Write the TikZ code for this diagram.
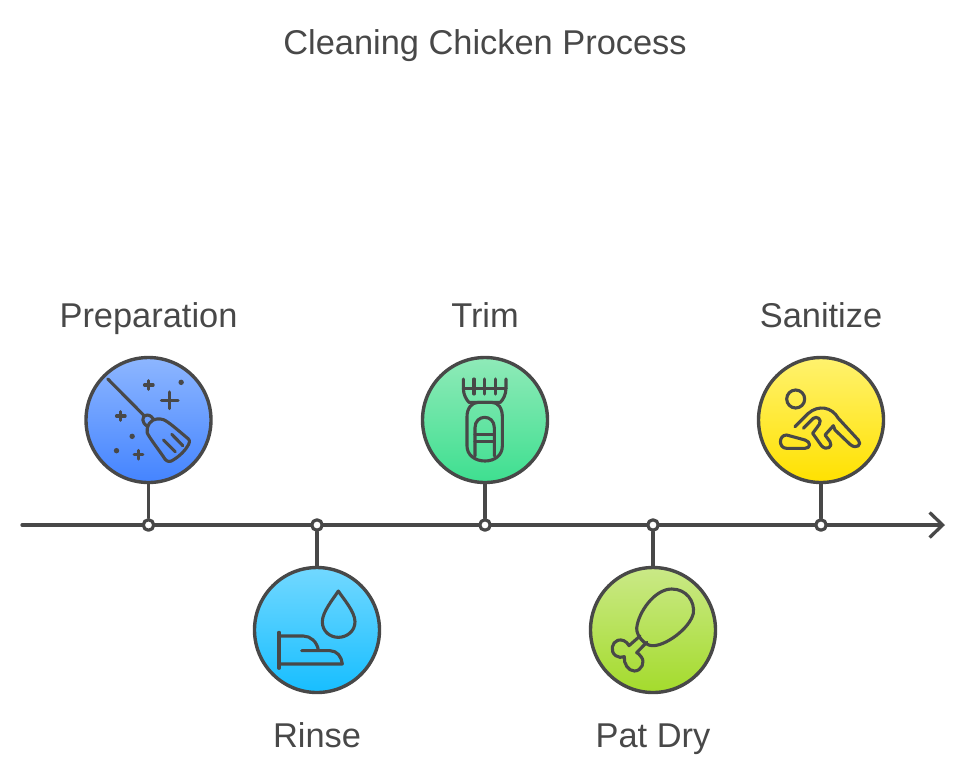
\documentclass[tikz,border=0pt]{standalone}
\usepackage{fontspec}
\setmainfont{Liberation Sans}
\usetikzlibrary{positioning,calc,arrows.meta}

\definecolor{inkgray}{HTML}{484848}
\definecolor{prepTop}{HTML}{8DB6FF}
\definecolor{prepBot}{HTML}{4484FF}
\definecolor{rinseTop}{HTML}{72D8FF}
\definecolor{rinseBot}{HTML}{17BEFF}
\definecolor{trimTop}{HTML}{8FEAB8}
\definecolor{trimBot}{HTML}{3EDF90}
\definecolor{patTop}{HTML}{CAE987}
\definecolor{patBot}{HTML}{A4DB2C}
\definecolor{saniTop}{HTML}{FFF26E}
\definecolor{saniBot}{HTML}{FFE100}

\tikzset{
	stepcircle/.style={circle,draw=inkgray,line width=3.4pt,minimum size=125pt,inner sep=0pt},
	axisdot/.style={circle,draw=inkgray,fill=white,line width=3.2pt,minimum size=10.5pt,inner sep=0pt},
	stemline/.style={draw=inkgray,line width=3.3pt},
	iconline/.style={draw=inkgray,line width=3.1pt,line cap=round,line join=round},
	steplabel/.style={text=inkgray,anchor=base,font=\fontsize{34.4}{38}\selectfont},
	iconscope/.style={shift={(#1.center)},x=0.3333pt,y=-0.3333pt}
}

\begin{document}
\begin{tikzpicture}[x=1pt,y=-1pt,line cap=round,line join=round]
	\useasboundingbox (0,0) rectangle (968,777);

	% axis
	\coordinate (axisStart) at (22,525);
	\coordinate (axisEnd) at (945,525);
	\draw[stemline,-{Straight Barb[length=13pt,width=25pt,line width=3.3pt]}] (axisStart) -- (axisEnd);

	% title
	\node[steplabel] (title) at (485,54) {Cleaning Chicken Process};

	% steps on the axis
	\foreach \name/\xx/\yy/\lab/\ly in {prep/148.5/420/Preparation/327, rinse/317/630/Rinse/747, trim/485/420/Trim/327, pat/653/630/Pat Dry/747, sani/821/420/Sanitize/327}{
		\node[stepcircle,top color=\name Top,bottom color=\name Bot] (\name) at (\xx,\yy) {};
		\node[axisdot] (\name Dot) at (\xx,525) {};
		\draw[stemline] (\name) -- (\name Dot);
		\node[steplabel] (\name Label) at (\xx,\ly) {\lab};
	}

	% broom
	\begin{scope}[iconscope=prep]
		\draw[iconline] (-122,-123) -- (-14,-14);
		\draw[iconline] (15,-3) .. controls (5,-15) and (0,-15) .. (-5,-15) .. controls (-13,-15) and (-18,-8) .. (-17,0) .. controls (-17,7) and (-12,13) .. (-3,19);
		\draw[iconline] (25,-3) .. controls (8,-3) and (-8,18) .. (-4,38) .. controls (0,50) and (35,95) .. (50,118) .. controls (56,126) and (66,126) .. (74,120) .. controls (95,107) and (110,92) .. (120,74) .. controls (126,62) and (122,58) .. (114,52) .. controls (90,32) and (60,5) .. (45,-1) .. controls (38,-4) and (32,-3) .. cycle;
		\draw[iconline] (70,43) -- (103,77);
		\draw[iconline] (45,60) -- (80,95);
		% sparkles
		\foreach \px/\py/\ps in {1/-105/13, 64/-59/25, -83/-12/13, -30/104/13}{
			\draw[iconline] (\px-\ps,\py) -- (\px+\ps,\py) (\px,\py-\ps) -- (\px,\py+\ps);
		}
		\foreach \px/\py in {98/-113, -49/49, -96/92}{
			\fill[inkgray] (\px,\py) circle (2.7pt);
		}
	\end{scope}

	% hand and drop
	\begin{scope}[iconscope=rinse]
		\draw[iconline] (-114,7) -- (-114,115);
		\draw[iconline] (-114,18) -- (-41,18) .. controls (-20,18) and (0,35) .. (4,60);
		\draw[iconline] (-46,62) -- (39,62) .. controls (60,62) and (74,80) .. (76,102) -- (-114,102);
		\draw[iconline] (64,-117) .. controls (50,-95) and (16,-55) .. (16,-25) .. controls (16,5) and (40,22) .. (64,22) .. controls (88,22) and (114,5) .. (114,-25) .. controls (114,-55) and (78,-95) .. cycle;
	\end{scope}

	% trimmer
	\begin{scope}[iconscope=trim]
		\draw[iconline] (-65,-123) -- (-65,-95) .. controls (-65,-75) and (-55,-60) .. (-48,-53) -- (46,-53) .. controls (53,-60) and (63,-75) .. (63,-95) -- (63,-123);
		\draw[iconline] (-65,-95) -- (63,-95);
		\foreach \px in {-33,-1,31}{
			\draw[iconline] (\px,-123) -- (\px,-78);
		}
		\draw[iconline] (-54,-10) .. controls (-54,-35) and (-40,-53) .. (-20,-53) -- (20,-53) .. controls (40,-53) and (52,-35) .. (52,-10) -- (52,78) .. controls (52,105) and (30,123) .. (0,123) .. controls (-30,123) and (-54,105) .. (-54,78) -- cycle;
		\draw[iconline] (-30,108) -- (-30,23) .. controls (-30,3) and (-16,-8) .. (-1,-8) .. controls (14,-8) and (28,3) .. (28,23) -- (28,108);
		\draw[iconline] (-30,43) -- (28,43);
		\draw[iconline] (-30,65) -- (28,65);
	\end{scope}

	% drumstick
	\begin{scope}[iconscope=pat]
		\draw[iconline] (-49,-5) .. controls (-44,-55) and (6,-123) .. (56,-123) .. controls (101,-123) and (126,-85) .. (121,-50) .. controls (111,-5) and (36,50) .. (-4,47) .. controls (-24,45) and (-49,20) .. cycle;
		\draw[iconline] (-39,18) -- (-72,47) .. controls (-79,33) and (-94,27) .. (-106,31) .. controls (-124,37) and (-129,65) .. (-112,77) .. controls (-104,83) and (-94,83) .. (-86,80) .. controls (-89,100) and (-74,123) .. (-56,123) .. controls (-34,123) and (-22,95) .. (-36,80) .. controls (-41,73) and (-44,70) .. (-49,68) -- (-19,37);
	\end{scope}

	% person wiping the floor
	\begin{scope}[iconscope=sani]
		\draw[iconline] (-76,-63) circle (9pt);
		\draw[iconline] (-78,20) -- (-38,-20) .. controls (-8,-46) and (32,-40) .. (52,-5) -- (112,60) .. controls (124,73) and (107,90) .. (87,73) -- (42,30) -- (37,17) -- (12,45) -- (27,65) .. controls (37,80) and (17,93) .. (2,78) -- (-25,40) -- (-5,13) .. controls (4,-3) and (-13,-13) .. (-23,-5) -- (-53,25);
		\draw[iconline] (-103,45) -- (-48,60) .. controls (-30,65) and (-30,85) .. (-48,85) -- (-103,85) .. controls (-128,85) and (-128,45) .. cycle;
	\end{scope}
\end{tikzpicture}
\end{document}
